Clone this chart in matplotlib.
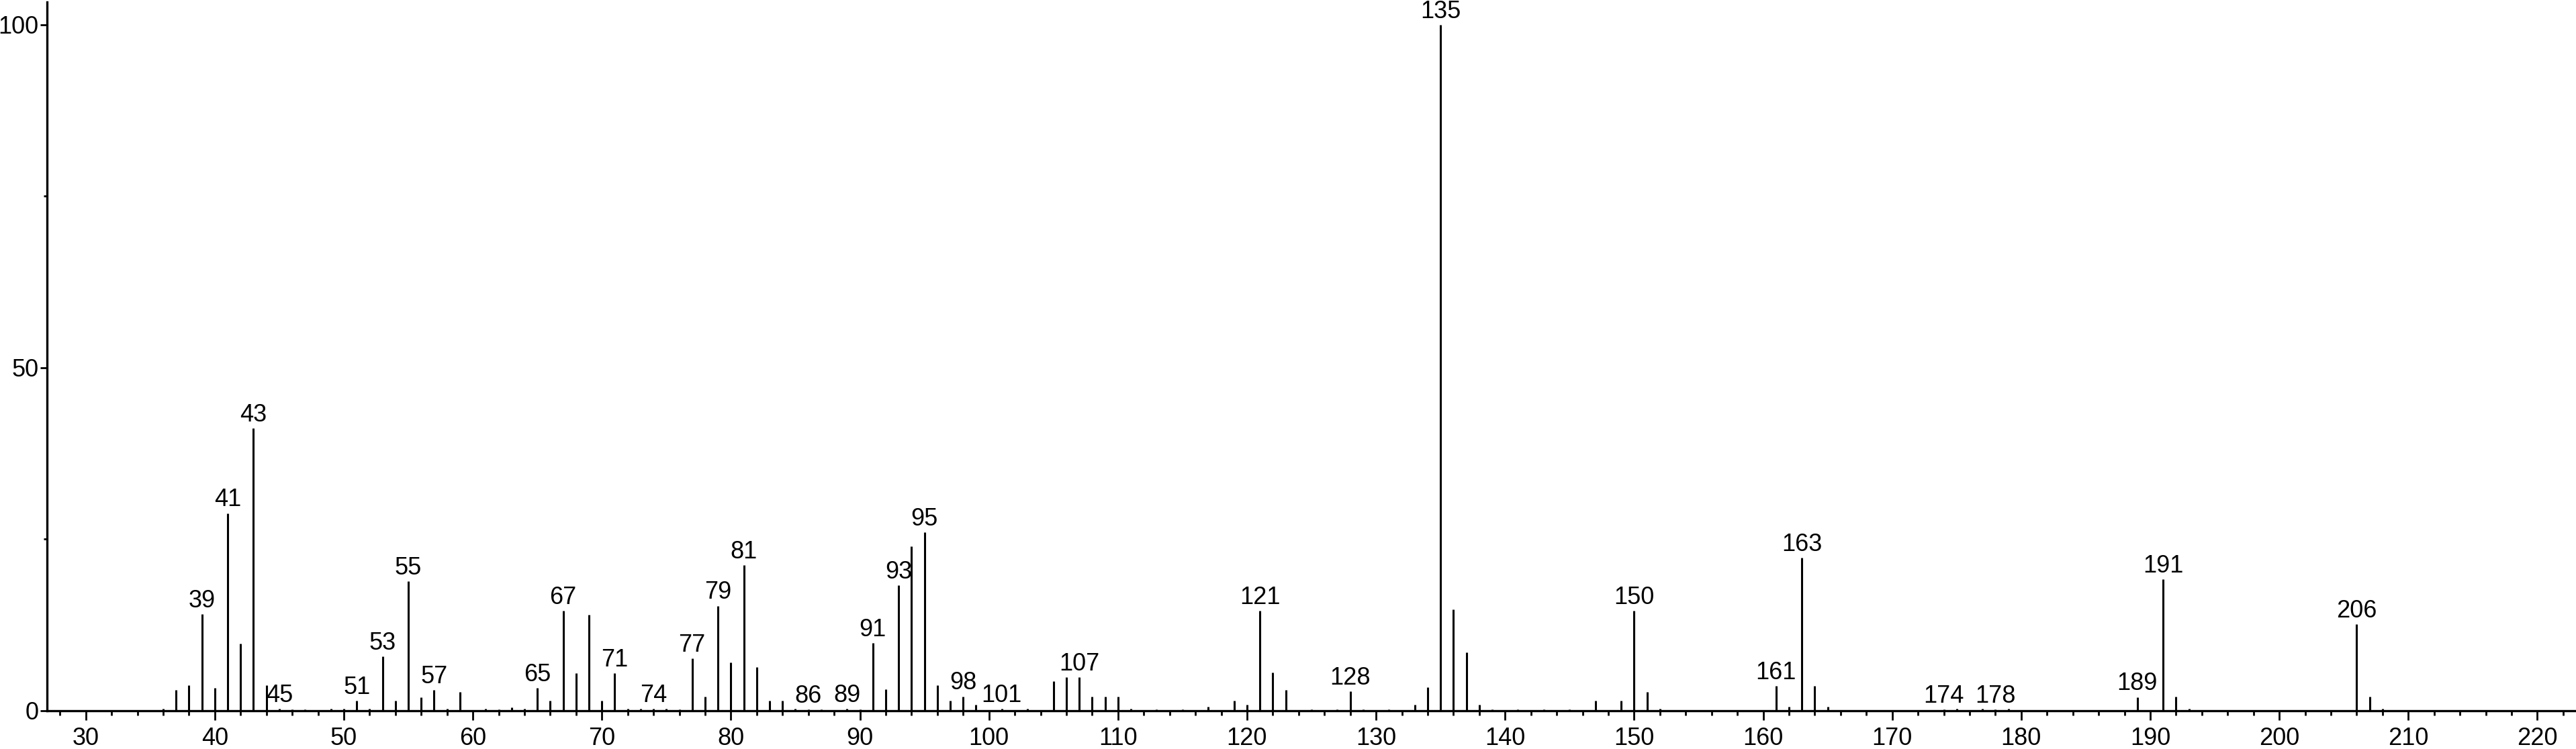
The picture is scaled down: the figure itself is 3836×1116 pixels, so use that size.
import matplotlib
matplotlib.use('Agg')
import matplotlib.pyplot as plt
from matplotlib.ticker import MultipleLocator, FixedLocator

plt.rcParams['font.family'] = ['Liberation Sans', 'DejaVu Sans']

# m/z values and relative intensities
mz = [36, 37, 38, 39, 40, 41, 42, 43, 44, 45, 46, 47, 49, 50, 51, 52, 53, 54, 55, 56,
      57, 58, 59, 61, 62, 63, 64, 65, 66, 67, 68, 69, 70, 71, 72, 73, 74, 75, 76, 77,
      78, 79, 80, 81, 82, 83, 84, 85, 86, 87, 89, 90, 91, 92, 93, 94, 95, 96, 97, 98,
      99, 101, 103, 105, 106, 107, 108, 109, 110, 111, 113, 115, 117, 119, 120, 121, 122, 123, 125, 127,
      128, 129, 131, 133, 134, 135, 136, 137, 138, 139, 141, 143, 145, 147, 149, 150, 151, 152, 161, 162,
      163, 164, 165, 174, 175, 177, 178, 179, 189, 191, 192, 193, 206, 207, 208]
intensity = [0.3, 3.0, 3.7, 14.1, 3.3, 28.8, 9.8, 41.2, 3.7, 0.3, 0.2, 0.2, 0.3, 0.3, 1.5, 0.3, 7.9, 1.5, 18.9, 2.0,
             3.0, 0.3, 2.7, 0.3, 0.2, 0.5, 0.3, 3.3, 1.5, 14.6, 5.5, 14.0, 1.5, 5.5, 0.3, 0.3, 0.3, 0.3, 0.2, 7.6,
             2.1, 15.3, 7.0, 21.2, 6.4, 1.5, 1.5, 0.3, 0.2, 0.2, 0.3, 0.2, 9.9, 3.1, 18.3, 24.0, 26.0, 3.7, 1.5, 2.1,
             0.9, 0.3, 0.3, 4.3, 4.9, 4.9, 2.1, 2.1, 2.1, 0.3, 0.2, 0.2, 0.6, 1.5, 0.9, 14.6, 5.6, 3.0, 0.2, 0.2,
             2.8, 0.2, 0.2, 0.9, 3.4, 100.0, 14.8, 8.5, 0.9, 0.2, 0.2, 0.2, 0.2, 1.5, 1.5, 14.6, 2.7, 0.3, 3.6, 0.6,
             22.3, 3.6, 0.6, 0.2, 0.3, 0.3, 0.2, 0.3, 2.0, 19.2, 2.1, 0.3, 12.6, 2.1, 0.3]

# peaks that carry an m/z label
labeled = [39, 41, 43, 45, 51, 53, 55, 57, 65, 67, 71, 74, 77, 79, 81, 86, 89, 91, 93, 95,
           98, 101, 107, 121, 128, 135, 150, 161, 163, 174, 178, 189, 191, 206]

fig = plt.figure(figsize=(38.36, 11.16), dpi=100)
ax = fig.add_axes([0.01825, 0.0511, 0.98175, 0.9462])

ax.vlines(mz, 0, intensity, colors='black', linewidth=2.2)

lookup = dict(zip(mz, intensity))
for m in labeled:
    ax.annotate(str(m), (m, lookup[m]), xytext=(0, 1.5), textcoords='offset points',
                ha='center', va='bottom', fontsize=26)

ax.set_xlim(27, 223)
ax.set_ylim(0, 103.3)

ax.xaxis.set_major_locator(MultipleLocator(10))
ax.xaxis.set_minor_locator(MultipleLocator(2))
ax.yaxis.set_major_locator(FixedLocator([0, 50, 100]))
ax.yaxis.set_minor_locator(FixedLocator([25, 75]))

for s in ['top', 'right']:
    ax.spines[s].set_visible(False)
for s in ['left', 'bottom']:
    ax.spines[s].set_linewidth(2.4)

ax.tick_params(axis='x', which='major', direction='out', length=10, width=2, labelsize=26, pad=7)
ax.tick_params(axis='x', which='minor', direction='out', length=5, width=2)
ax.tick_params(axis='y', which='major', direction='out', length=7, width=2, labelsize=26, pad=2)
ax.tick_params(axis='y', which='minor', direction='out', length=3.5, width=2)

fig.savefig('out.png', dpi=100)
